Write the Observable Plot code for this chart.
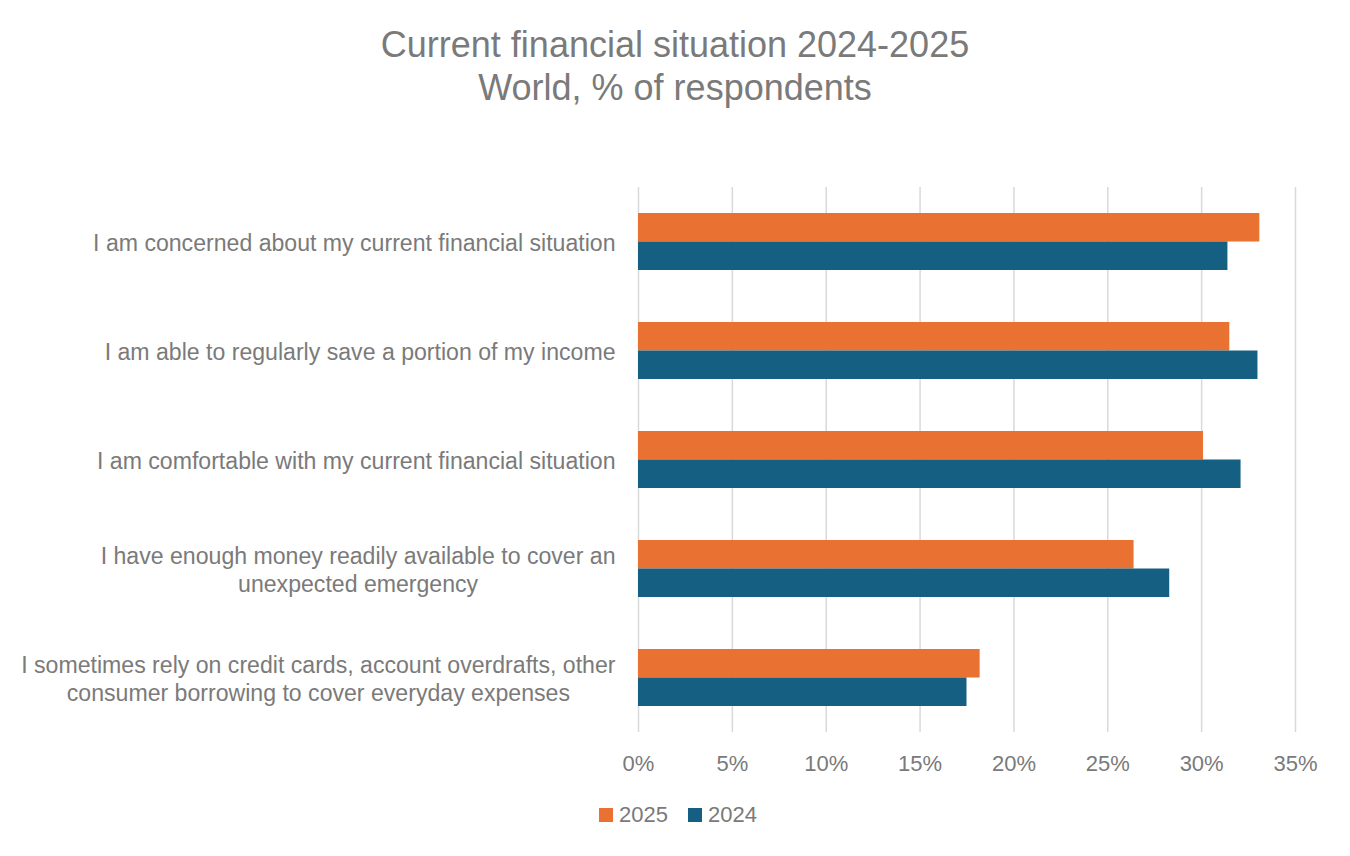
<!DOCTYPE html>
<html>
<head>
<meta charset="utf-8">
<script src="https://cdn.jsdelivr.net/npm/d3@7"></script>
<script src="https://cdn.jsdelivr.net/npm/@observablehq/plot@0.6"></script>
<style>
  html, body { margin: 0; padding: 0; background: #fff; }
  body { width: 1350px; height: 856px; overflow: hidden; font-family: "Liberation Sans", Arial, sans-serif; color: #7a7a7a; }
  #title { height: 120px; box-sizing: border-box; padding-top: 23px; text-align: center; font-size: 36px; line-height: 43px; color: #7a7a7a; }
  #legend { height: 50px; display: flex; justify-content: center; align-items: center; font-size: 22px; color: #7a7a7a; padding-left: 6px; }
  #legend .item { display: flex; align-items: center; margin: 0 10px; }
  #legend .sw { width: 14px; height: 14px; margin-right: 6px; }
</style>
</head>
<body>
<div id="title">Current financial situation 2024-2025<br>World, % of respondents</div>
<div id="chart"></div>
<div id="legend"></div>
<script>
const categories = [
  "I am concerned about my current financial situation",
  "I am able to regularly save a portion of my income",
  "I am comfortable with my current financial situation",
  "I have enough money readily available to cover an\nunexpected emergency",
  "I sometimes rely on credit cards, account overdrafts, other\nconsumer borrowing to cover everyday expenses"
];
const series = ["2025", "2024"];
const values2025 = [33.1, 31.5, 30.1, 26.4, 18.2];
const values2024 = [31.4, 33.0, 32.1, 28.3, 17.5];
const colors = ["#E97132", "#156082"];
const xTicks = [0, 5, 10, 15, 20, 25, 30, 35];

const data2025 = categories.map((c, i) => ({category: c, series: "2025", value: values2025[i]}));
const data2024 = categories.map((c, i) => ({category: c, series: "2024", value: values2024[i]}));

const labelSize = 23.1;
const canvas = document.createElement("canvas");
const ctx = canvas.getContext("2d");
ctx.font = labelSize + "px 'Liberation Sans'";
function blockWidth(s) { return Math.max(...s.split("\n").map(l => ctx.measureText(l).width)); }

const half = 28.5;
const textColor = "#7a7a7a";

const labelMarks = categories.map(c => Plot.text([c], {
  y: d => d, text: d => d, frameAnchor: "left", textAnchor: "middle",
  dx: -(23 + blockWidth(c) / 2), lineHeight: 1.21, fontSize: labelSize, fill: textColor
}));

const chart = Plot.plot({
  width: 1350,
  height: 670,
  marginLeft: 638,
  marginRight: 55,
  marginTop: 67,
  marginBottom: 58,
  style: {fontFamily: "'Liberation Sans', Arial, sans-serif", color: textColor, background: "#fff"},
  x: {domain: [0, 35], ticks: xTicks, tickFormat: d => d + "%"},
  y: {domain: categories, paddingInner: 0.477, paddingOuter: 0.2385, axis: null},
  color: {domain: series, range: colors},
  marks: [
    Plot.gridX(xTicks, {stroke: "#d9d9d9", strokeOpacity: 1, strokeWidth: 1.5}),
    Plot.barX(data2025, {x: "value", y: "category", fill: "series", insetBottom: half, insetTop: 0}),
    Plot.barX(data2024, {x: "value", y: "category", fill: "series", insetTop: half, insetBottom: 0}),
    Plot.axisX(xTicks, {tickSize: 0, tickPadding: 23, fontSize: 22, tickFormat: d => d + "%", fill: textColor, label: null}),
    ...labelMarks
  ]
});
document.getElementById("chart").appendChild(chart);

const legend = document.getElementById("legend");
series.forEach((s, i) => {
  const item = document.createElement("div");
  item.className = "item";
  const sw = document.createElement("span");
  sw.className = "sw";
  sw.style.background = colors[i];
  const t = document.createElement("span");
  t.textContent = s;
  item.appendChild(sw); item.appendChild(t);
  legend.appendChild(item);
});
</script>
</body>
</html>
